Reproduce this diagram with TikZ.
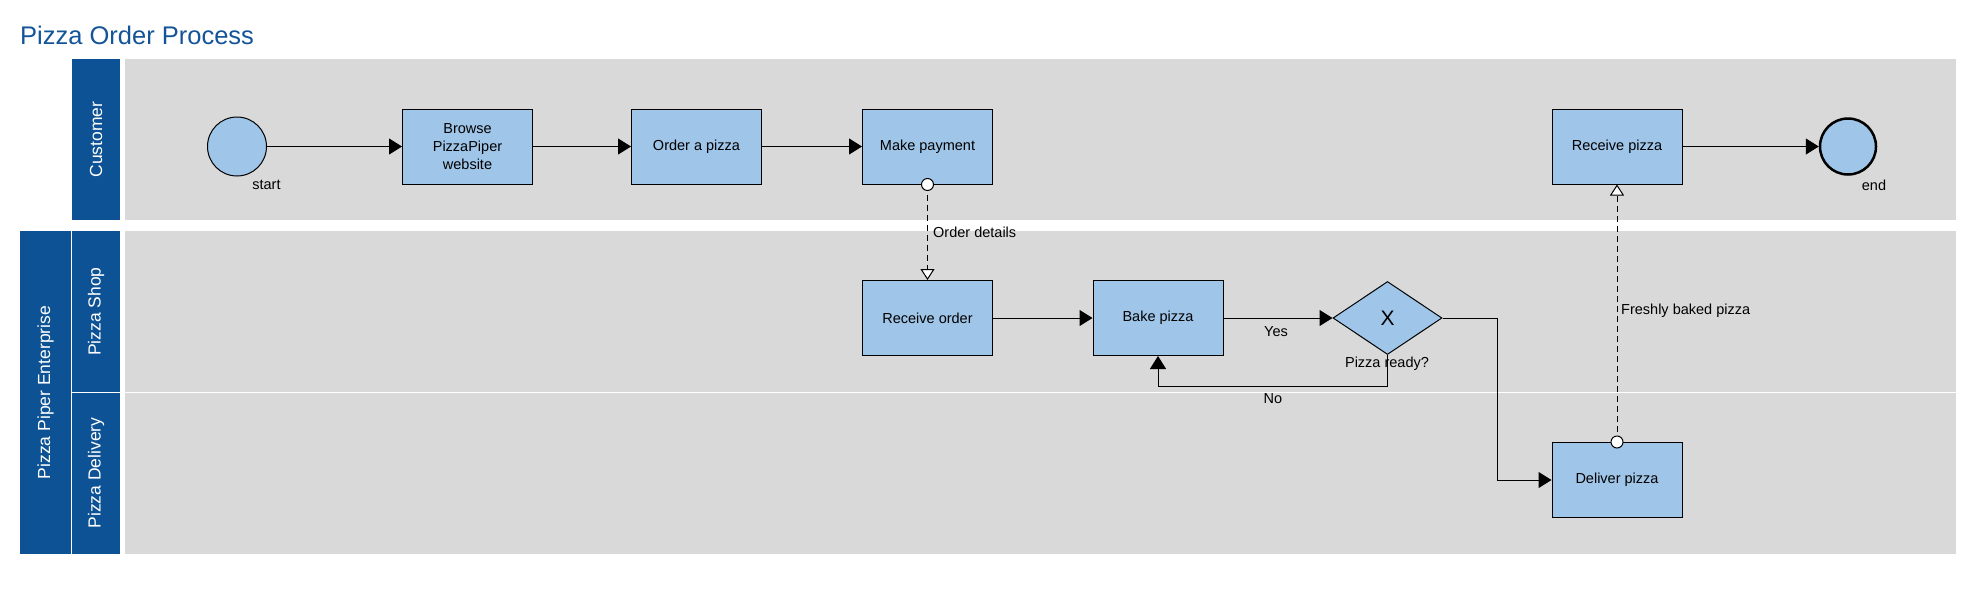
\documentclass[tikz,border=0pt]{standalone}
\usepackage{fontspec}
\setmainfont{Liberation Sans}
\usetikzlibrary{arrows.meta,shapes.geometric}
\definecolor{headblue}{RGB}{13,82,148}
\definecolor{titleblue}{RGB}{20,84,152}
\definecolor{taskblue}{RGB}{159,197,232}
\definecolor{lanegray}{RGB}{217,217,217}
\tikzstyle{task}=[rectangle,draw,fill=taskblue,line width=1pt,minimum width=130pt,minimum height=75pt,inner sep=0pt,align=center,font=\fontsize{14.5}{18}\selectfont]
\tikzstyle{event}=[circle,draw,fill=taskblue,line width=1pt,minimum size=59pt,inner sep=0pt]
\tikzstyle{endevent}=[event,line width=2.5pt,minimum size=56pt]
\tikzstyle{gateway}=[diamond,draw,fill=taskblue,line width=1pt,minimum width=109pt,minimum height=73pt,inner sep=0pt,font=\fontsize{21}{24}\selectfont]
\tikzstyle{lanehead}=[rotate=90,text=white,inner sep=0pt,font=\fontsize{17.5}{20}\selectfont]
\tikzstyle{lbl}=[inner sep=0pt,font=\fontsize{14.5}{17}\selectfont]
\tikzstyle{flow}=[draw,line width=1pt,-{Triangle[length=13pt,width=16pt]}]
\tikzstyle{message}=[draw,line width=1pt,dash pattern=on 6pt off 4pt,-{Triangle[fill=white,length=11pt,width=14pt]}]
\tikzstyle{msgstart}=[draw,fill=white,line width=1pt]

\begin{document}
\begin{tikzpicture}[x=1pt, y=-1pt]

  \fill[white] (0,0) rectangle (1979,595);
  \useasboundingbox (0,0) rectangle (1979,595);

% Title
  \node[anchor=base west, inner sep=0pt, text=titleblue, font=\fontsize{25.5}{30}\selectfont] (title) at (20,44) {Pizza Order Process};

% Pools and lanes
  \foreach \xa/\ya/\xb/\yb/\col in {72/59/120/220/headblue, 125/59/1956/220/lanegray,
      20/231/71/554/headblue, 72/231/120/392/headblue, 72/393/120/554/headblue,
      125/231/1956/392/lanegray, 125/393/1956/554/lanegray}
    \fill[\col] (\xa,\ya) rectangle (\xb,\yb);

  \foreach \pos/\name/\txt in {{(96,139.5)/customer/Customer}, {(45.5,392.5)/enterprise/Pizza Piper Enterprise},
      {(96,311.5)/shop/Pizza Shop}, {(96,473)/delivery/Pizza Delivery}}
    \node[lanehead] (\name) at \pos {\txt};

% Tasks and events
  \foreach \pos/\name/\txt in {{(467.5,146.5)/browse/{Browse\\PizzaPiper\\website}}, {(696.5,146.5)/order/Order a pizza},
      {(927.5,146.5)/pay/Make payment}, {(1617,146.5)/recvpizza/Receive pizza},
      {(927.5,318)/recvorder/Receive order}, {(1158,318)/bake/Bake pizza}, {(1617,480)/deliver/Deliver pizza}}
    \node[task] (\name) at \pos {\txt};

  \node[event] (start) at (237,146.5) {};
  \node[endevent] (end) at (1848,146.5) {};
  \node[gateway] (gw) at (1387.5,318) {X};

  \node[lbl] (startlbl) at (266.5,185) {start};
  \node[lbl] (endlbl) at (1874,185) {end};
  \node[lbl] (gwlbl) at (1387,364) {Pizza ready?};

% Sequence flows
  \foreach \source/\dest in {start/browse, browse/order, order/pay, recvorder/bake, bake/gw, recvpizza/end}
    \path[flow] (\source) -- (\dest);

  \path[flow] (gw.south) -- ++(0,31) -| (bake.south);
  \path[flow] (gw.east) -- ++(55,0) |- (deliver.west);

  \node[lbl] (yes) at (1276,332) {Yes};
  \node[lbl] (no) at (1273,399) {No};

% Message flows
  \path[message] (pay.south) -- (recvorder.north);
  \draw[msgstart] (pay.south) circle (6pt);
  \path[message] (deliver.north) -- (recvpizza.south);
  \draw[msgstart] (deliver.north) circle (6pt);

  \node[lbl, anchor=west] (details) at (933,232) {Order details};
  \node[lbl, anchor=west] (fresh) at (1621,311) {Freshly baked pizza};

\end{tikzpicture}
\end{document}
